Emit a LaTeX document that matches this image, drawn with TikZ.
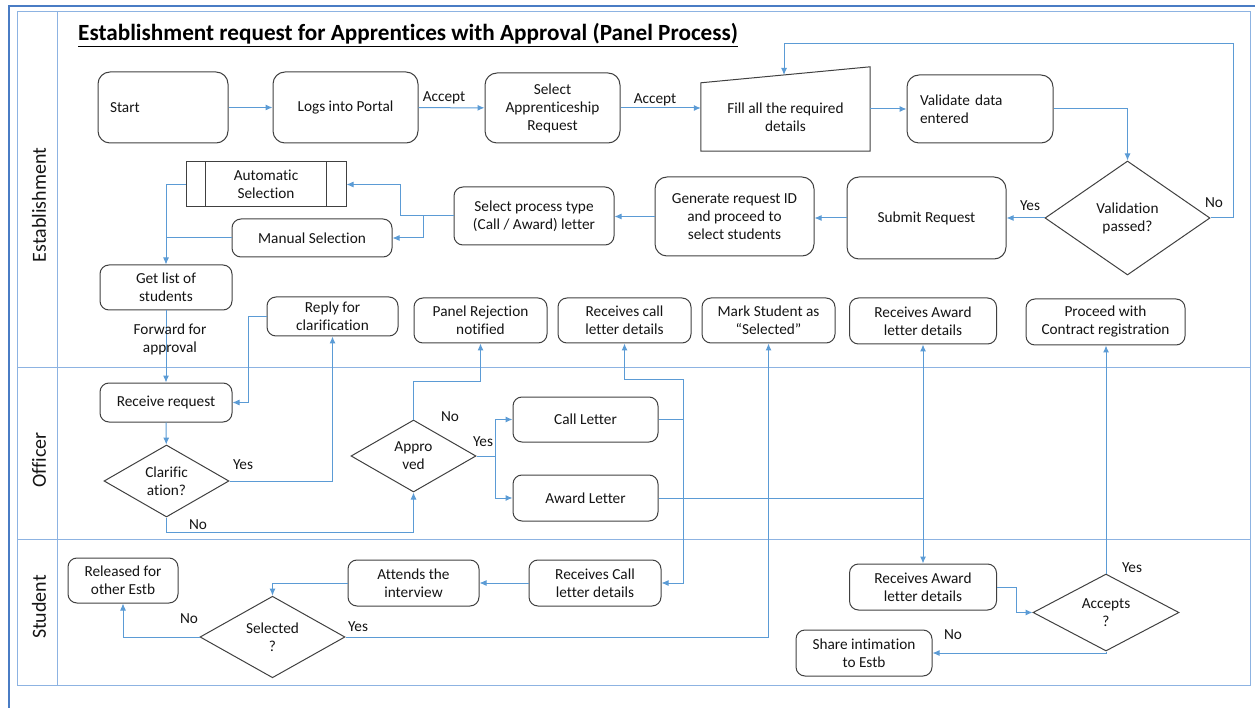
\documentclass[tikz,border=0pt]{standalone}
\usepackage{fontspec}
\setmainfont{Carlito}[Ligatures=NoCommon]
\usetikzlibrary{shapes.geometric,arrows.meta,calc}
\definecolor{conn}{HTML}{5B9BD5}
\definecolor{lanec}{HTML}{8DB3E2}
\definecolor{framec}{HTML}{4A7CC4}
\definecolor{edgec}{HTML}{404040}
\definecolor{txtc}{HTML}{141414}
\newcommand\fs{\fontsize{15.3}{18}\selectfont}
\begin{document}
\begin{tikzpicture}[x=1pt,y=-1pt,
  box/.style={draw=edgec, line width=1pt, rounded corners=9pt, align=center, inner sep=0pt, font=\fs, text=txtc},
  bigbox/.style={box, rounded corners=12pt},
  sz/.style 2 args={minimum width=#1pt, minimum height=#2pt},
  dia/.style={diamond, draw=edgec, line width=1pt, align=center, inner sep=0pt, font=\fs, text=txtc},
  arr/.style={draw=conn, line width=1pt, -{Latex[length=7pt,width=6pt]}},
  plain/.style={draw=conn, line width=1pt},
  lbl/.style={font=\fs, text=txtc, inner sep=0pt, align=center},
  lanelbl/.style={rotate=90, font=\fontsize{20}{24}\selectfont, text=txtc, inner sep=0pt}
]
\useasboundingbox (0,0) rectangle (1255,708);
% frames and lanes
\draw[framec, line width=2pt] (8.5,708) -- (8.5,6.5) -- (1255,6.5);
\draw[lanec, line width=1pt] (17,12) rectangle (1250,685);
\draw[lanec, line width=1pt] (57,12) -- (57,685);
\draw[lanec, line width=1pt] (17,367) -- (1250,367);
\draw[lanec, line width=1pt] (17,539) -- (1250,539);
\node[lanelbl] (l1) at (39,205) {Establishment};
\node[lanelbl] (l2) at (39,460) {Officer};
\node[lanelbl] (l3) at (39,607) {Student};
% title
\node[anchor=west, inner sep=0pt, font=\fontsize{23.2}{27}\selectfont\bfseries] (title) at (78,35) {\underline{Establishment request for Apprentices with Approval (Panel Process)}};

% Establishment lane
\node[bigbox, sz={130}{71}, text width=106pt, align=left] (start) at (163,107.5) {Start};
\node[bigbox, sz={145}{71}] (logs) at (345.5,107.5) {Logs into Portal};
\node[bigbox, sz={135}{70}] (select) at (552.5,108) {Select\\Apprenticeship\\Request};
\node[inner sep=0pt, sz={169}{68}, font=\fs, text=txtc, align=center] (fill) at (785.5,117) {Fill all the required\\details};
\draw[draw=edgec, line width=1pt] (fill.south west) -- (fill.south east) -- ([yshift=16pt]fill.north east) -- (fill.north west) -- cycle;
\node[bigbox, sz={146}{68}, text width=120pt, align=left] (valid) at (980,109) {Validate data\\entered};
\node[dia, minimum width=165pt, minimum height=114pt] (valq) at (1127.5,218) {Validation\\passed?};
\node[bigbox, sz={159}{82}] (submit) at (926.5,218) {Submit Request};
\node[bigbox, sz={159}{79}] (gen) at (734.5,216.5) {Generate request ID\\and proceed to\\select students};
\node[box, sz={160}{58}] (selp) at (534,216) {Select process type\\(Call / Award) letter};
\node[box, rounded corners=0pt, sz={160}{45}] (auto) at (266,184.5) {Automatic\\Selection};
\draw[draw=edgec, line width=1pt] ([xshift=20pt]auto.north west) -- ([xshift=20pt]auto.south west);
\draw[draw=edgec, line width=1pt] ([xshift=-20pt]auto.north east) -- ([xshift=-20pt]auto.south east);
\node[box, sz={160}{38}] (manual) at (312,238) {Manual Selection};
\node[box, sz={132}{45}] (getlist) at (166,287.5) {Get list of\\students};
\node[box, sz={131}{39}] (reply) at (332.5,316.5) {Reply for\\clarification};
\node[box, sz={133}{45}] (panel) at (480.5,320.5) {Panel Rejection\\notified};
\node[box, sz={133}{45}] (rcvcall) at (624.5,320.5) {Receives call\\letter details};
\node[box, sz={133}{45}] (mark) at (768.5,320.5) {Mark Student as\\“Selected”};
\node[box, sz={147}{46}] (rcvaward) at (923,321) {Receives Award\\letter details};
\node[box, sz={159}{46}] (proceed) at (1105.5,322) {Proceed with\\Contract registration};

% Officer lane
\node[box, sz={132}{39}] (recv) at (166,402.5) {Receive request};
\node[dia, minimum width=125pt, minimum height=72pt] (clar) at (166.5,481) {Clarific\\ation?};
\node[dia, minimum width=125pt, minimum height=72pt] (appro) at (413.5,456) {Appro\\ved};
\node[box, sz={145}{45}] (call) at (585.5,419.5) {Call Letter};
\node[box, sz={145}{46}] (award) at (585.5,498) {Award Letter};

% Student lane
\node[box, sz={110}{45}] (released) at (123,580.5) {Released for\\other Estb};
\node[box, sz={131}{46}] (attend) at (413.5,583) {Attends the\\interview};
\node[box, sz={132}{46}] (srcvcall) at (595,583) {Receives Call\\letter details};
\node[dia, minimum width=145pt, minimum height=76pt] (selq) at (272.5,637) {Selected\\?};
\node[box, sz={147}{46}] (sraward) at (923,587) {Receives Award\\letter details};
\node[dia, minimum width=146pt, minimum height=77pt] (accq) at (1106,612.5) {Accepts\\?};
\node[box, sz={136}{46}] (share) at (864,653) {Share intimation\\to Estb};

% connectors
\draw[arr] (start) -- (logs);
\draw[arr] (logs) -- (select);
\draw[arr] (select.east) -- (select.east -| fill.west);
\draw[arr] (valid.west -| fill.east) -- (valid.west);
\draw[arr] (valid.east) -| (valq.north);
\coordinate (filltop) at (784,75);
\draw[arr] (valq.east) -| (1233,44) -| (filltop);
\draw[arr] (valq.west) -- (submit.east);
\draw[arr] (submit.west) -- (submit.west -| gen.east);
\draw[arr] (gen.west) -- (gen.west -| selp.east);
\draw[arr] (selp.west) -| (400,184.5) -- (auto.east);
\coordinate (selbr) at (423,216);
\draw[arr] (selbr) |- (manual.east);
\draw[arr] (auto.west) -| (getlist.north);
\draw[plain] (manual.west) -- (manual.west -| getlist.north);
\draw[arr] (getlist) -- (recv);
\draw[arr] (recv) -- (clar);
\draw[arr] (clar.east) -| (reply.south);
\draw[arr] (reply.west) -- ++(-18,0) |- (recv.east);
\draw[arr] (clar.south) -- ++(0,15) -| (appro.south);
\draw[arr] (appro.north) -- ++(0,-38) -| (panel.south);
\draw[arr] (appro.east) -- ++(19,0) |- (call.west);
\draw[arr] (appro.east) -- ++(19,0) |- (award.west);
\draw[arr] (call.east) -| (683,379) -| (rcvcall.south);
\draw[arr] (call.east) -- ++(25,0) |- (srcvcall.east);
\draw[arr] (award.east) -| (rcvaward.south);
\draw[arr] (award.east) -| (sraward.north);
\draw[arr] (srcvcall) -- (attend);
\draw[arr] (attend.west) -| (selq.north);
\draw[arr] (selq.west) -| (released.south);
\draw[arr] (selq.east) -| (mark.south);
\draw[arr] (sraward.east) -- ++(19,0) |- (accq.west);
\draw[arr] (accq.north) -- (accq.north |- proceed.south);
\draw[arr] (accq.south) |- (share.east);

% labels
\node[lbl] (a1) at (444,98) {Accept};
\node[lbl] (a2) at (655,100) {Accept};
\node[lbl] (vy) at (1030,206) {Yes};
\node[lbl] (vn) at (1214,203) {No};
\node[lbl] (fw) at (170,339) {Forward for\\approval};
\node[lbl] (cy) at (243,465) {Yes};
\node[lbl] (cn) at (198,525) {No};
\node[lbl] (an) at (450,417) {No};
\node[lbl] (ay) at (483,442) {Yes};
\node[lbl] (sn) at (189,619) {No};
\node[lbl] (sy) at (358,627) {Yes};
\node[lbl] (xy) at (1132,568) {Yes};
\node[lbl] (xn) at (953,635) {No};
\end{tikzpicture}
\end{document}
